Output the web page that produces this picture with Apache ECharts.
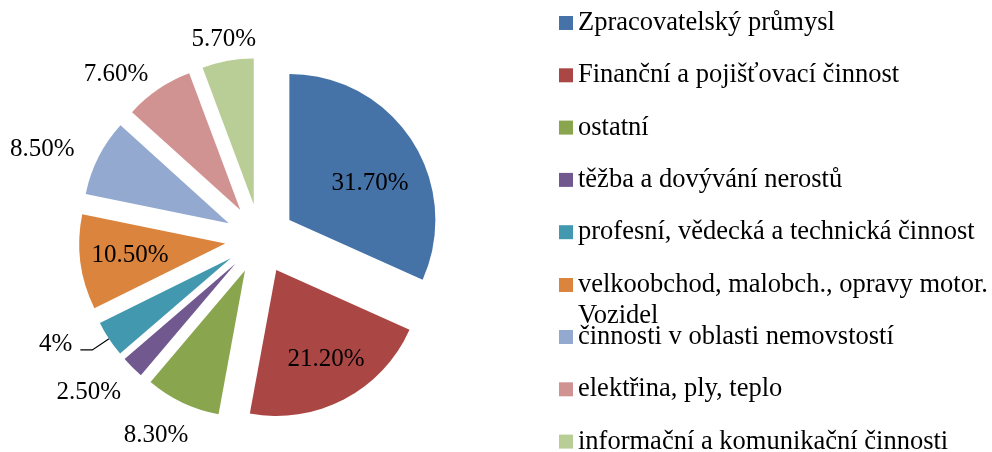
<!DOCTYPE html>
<html>
<head>
<meta charset="utf-8">
<script src="https://cdn.jsdelivr.net/npm/echarts@6/dist/echarts.min.js"></script>
<style>
  html, body { margin: 0; padding: 0; background: #fff; }
  #chart { width: 992px; height: 452px; }
</style>
</head>
<body>
<div id="chart"></div>
<script>
// Sectors of the economy and their shares (%)
const categories = [
  'Zpracovatelský průmysl',
  'Finanční a pojišťovací činnost',
  'ostatní',
  'těžba a dovývání nerostů',
  'profesní, vědecká a technická činnost',
  'velkoobchod, malobch., opravy motor. Vozidel',
  'činnosti v oblasti nemovstostí',
  'elektřina, ply, teplo',
  'informační a komunikační činnosti'
];
const shares = [31.7, 21.2, 8.3, 2.5, 4, 10.5, 8.5, 7.6, 5.7];
const colors = ['#4572A7', '#AA4643', '#89A54E', '#71588F', '#4198AF',
                '#DB843D', '#93A9CF', '#D19392', '#B9CD96'];

const FONT = '"Liberation Serif", "Times New Roman", serif';
const CENTER = [260, 239];
const EXPLODE = 35;

// small per-label shifts [dx, dy]: dx through label padding, dy through a spacer line
const labelShift = {
  0: [0, 16], 1: [5, 4], 2: [-7, -8], 3: [-12, -7],
  4: [0, -5], 6: [-16, 12], 7: [-17, 22]
};
const shiftOf = i => labelShift[i] || [0, 0];

function shiftPadding(i) {
  const dx = shiftOf(i)[0] * 2;
  return [0, Math.max(-dx, 0), 0, Math.max(dx, 0)];
}

const fmt = v => (Number.isInteger(v) ? String(v) : v.toFixed(2)) + '%';

const richStyles = { v: { fontFamily: FONT, fontSize: 25, color: '#000', lineHeight: 30 } };
categories.forEach((c, i) => {
  const dy = shiftOf(i)[1];
  if (dy) richStyles['g' + i] = { fontSize: 1, lineHeight: Math.abs(dy) * 2 };
});

function labelText(i) {
  const main = '{v|' + fmt(shares[i]) + '}';
  const dy = shiftOf(i)[1];
  if (dy > 0) return '{g' + i + '| }\n' + main;
  if (dy < 0) return main + '\n{g' + i + '| }';
  return main;
}

// every slice is pulled out of the pie (exploded)
function sliceData(labelled) {
  return categories.map((name, i) => ({
    name: name,
    value: shares[i],
    selected: true,
    label: { show: labelled.indexOf(i) >= 0, padding: shiftPadding(i) },
    labelLine: { show: labelled.indexOf(i) >= 0 }
  }));
}

const pieBase = {
  type: 'pie',
  center: CENTER,
  startAngle: 90,
  clockwise: true,
  selectedMode: 'multiple',
  selectedOffset: EXPLODE,
  avoidLabelOverlap: false,
  animation: false,
  emphasis: { disabled: true }
};

// transparent twin pies that only carry value labels at a given distance
function labelPie(radius, labelled) {
  return Object.assign({}, pieBase, {
    radius: [0, radius],
    silent: true,
    z: 3,
    itemStyle: { color: 'rgba(0,0,0,0)', borderWidth: 0 },
    label: {
      show: false, position: 'inside',
      formatter: p => labelText(p.dataIndex),
      rich: richStyles
    },
    labelLine: { show: false },
    data: sliceData(labelled).map(d => { d.labelLine = { show: false }; return d; })
  });
}

function legendBlock(names, top, lineHeight) {
  return {
    orient: 'vertical',
    left: 559,
    top: top,
    height: 320,
    padding: 0,
    itemGap: 22.3,
    itemWidth: 14,
    itemHeight: 14,
    icon: 'rect',
    selectedMode: false,
    data: names,
    formatter: name => {
      const cut = name.indexOf('motor. ');
      return cut >= 0
        ? ' \n' + name.slice(0, cut + 6) + '\n' + name.slice(cut + 7)
        : name;
    },
    textStyle: { fontFamily: FONT, fontSize: 26.5, color: '#000', lineHeight: lineHeight }
  };
}

const chart = echarts.init(document.getElementById('chart'), null, { renderer: 'canvas' });
chart.setOption({
  backgroundColor: '#fff',
  animation: false,
  color: colors,
  legend: [
    legendBlock(categories.slice(0, 5), 8, 30),
    legendBlock([categories[5]], 238.5, 31),
    legendBlock(categories.slice(6), 322, 30)
  ],
  series: [
    Object.assign({}, pieBase, {
      radius: [0, 146],
      itemStyle: { borderWidth: 0 },
      label: {
        show: false, position: 'outside',
        formatter: p => labelText(p.dataIndex),
        rich: richStyles,
        distanceToLabelLine: 8
      },
      labelLine: {
        show: false, length: 20, length2: 12,
        lineStyle: { color: '#000', width: 1.2 }
      },
      data: sliceData([4])
    }),
    labelPie(186, [0, 1, 5]),
    labelPie(330, [8]),
    labelPie(376, [2, 3, 6, 7])
  ]
});
</script>
</body>
</html>
